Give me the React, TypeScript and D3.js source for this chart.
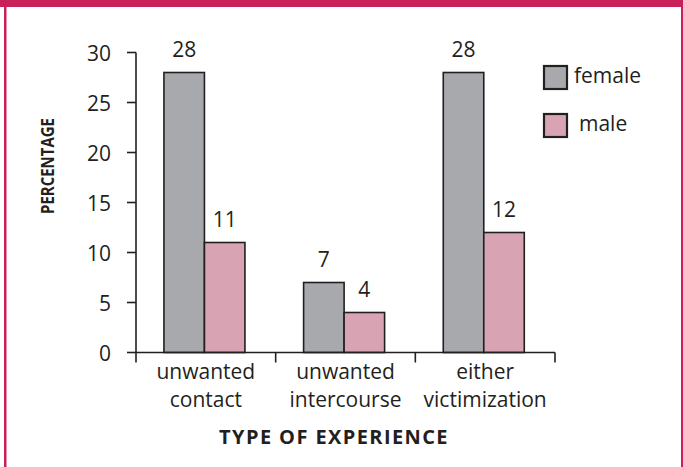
import React from "react";
import * as d3 from "d3";

// Share reporting each kind of experience, by sex (%)
const categories = [["unwanted", "contact"], ["unwanted", "intercourse"], ["either", "victimization"]];
const seriesNames = ["female", "male"];
const femaleValues = [28, 7, 28];
const maleValues = [11, 4, 12];
const yTicks = [0, 5, 10, 15, 20, 25, 30];

const W = 683;
const H = 467;
const INK = "#231F20";
const FRAME = "#C8215A";
const FILLS: Record<string, string> = { female: "#A7A9AC", male: "#D8A3B2" };
const FONT = "'Open Sans', 'Noto Sans', sans-serif";
const FS = 21;

export default function App() {
  const plot = { left: 136, right: 555, top: 52.5, bottom: 352.5 };

  const y = d3.scaleLinear().domain([0, 30]).range([plot.bottom, plot.top]);
  const x0 = d3
    .scaleBand<number>()
    .domain(d3.range(categories.length))
    .range([plot.left, plot.right])
    .padding(0);
  const bw = x0.bandwidth();
  const x1 = d3
    .scaleBand<string>()
    .domain(seriesNames)
    .range([bw * 0.2, bw * 0.78])
    .padding(0);

  const rows = categories.map((c, i) => ({
    i,
    values: [
      { key: "female", v: femaleValues[i] },
      { key: "male", v: maleValues[i] },
    ],
  }));

  const boundaries = d3.range(categories.length + 1).map((i) => plot.left + i * bw);

  return (
    <svg
      width={W}
      height={H}
      style={{ position: "absolute", left: 0, top: 0, background: "#fff" }}
      fontFamily={FONT}
    >
      {/* frame */}
      <rect x={0} y={0} width={W} height={7} fill={FRAME} />
      <rect x={4} y={0} width={2.5} height={H} fill={FRAME} />
      <rect x={681} y={0} width={2} height={H} fill={FRAME} />

      {/* bars */}
      {rows.map((r) => (
        <g key={r.i} transform={`translate(${x0(r.i)},0)`}>
          {r.values.map((d) => (
            <g key={d.key}>
              <rect
                x={x1(d.key)!}
                y={y(d.v)}
                width={x1.bandwidth()}
                height={y(0) - y(d.v)}
                fill={FILLS[d.key]}
                stroke={INK}
                strokeWidth={1.6}
              />
              <text
                x={x1(d.key)! + x1.bandwidth() / 2}
                y={y(d.v) - 16}
                textAnchor="middle"
                fontSize={FS}
                fill={INK}
              >
                {d.v}
              </text>
            </g>
          ))}
        </g>
      ))}

      {/* y axis */}
      <line x1={plot.left} x2={plot.left} y1={plot.top} y2={plot.bottom} stroke={INK} strokeWidth={1.6} />
      {yTicks.map((t) => (
        <g key={t}>
          <line x1={plot.left - 9} x2={plot.left} y1={y(t)} y2={y(t)} stroke={INK} strokeWidth={1.6} />
          <text x={111} y={y(t) + 8} textAnchor="end" fontSize={FS} fill={INK}>
            {t}
          </text>
        </g>
      ))}

      {/* x axis */}
      <line x1={plot.left} x2={plot.right} y1={plot.bottom} y2={plot.bottom} stroke={INK} strokeWidth={1.6} />
      {boundaries.map((b, i) => (
        <line key={i} x1={b} x2={b} y1={plot.bottom} y2={plot.bottom + 10} stroke={INK} strokeWidth={1.6} />
      ))}
      {categories.map((c, i) => (
        <text key={i} textAnchor="middle" fontSize={FS} fill={INK}>
          {c.map((line, j) => (
            <tspan key={j} x={x0(i)! + bw / 2} y={379 + j * 28}>
              {line}
            </tspan>
          ))}
        </text>
      ))}

      {/* axis titles */}
      <text
        x={334}
        y={444}
        textAnchor="middle"
        fontSize={20}
        fontWeight="bold"
        letterSpacing={1.4}
        fill={INK}
      >
        TYPE OF EXPERIENCE
      </text>
      <text
        transform={`translate(54,166) rotate(-90)`}
        textAnchor="middle"
        fontSize={17}
        fontWeight="bold"
        textLength={96}
        lengthAdjust="spacingAndGlyphs"
        fill={INK}
      >
        PERCENTAGE
      </text>

      {/* legend */}
      {seriesNames.map((s, i) => (
        <g key={s} transform={`translate(544,${66 + i * 48})`}>
          <rect x={0} y={0} width={23} height={23} fill={FILLS[s]} stroke={INK} strokeWidth={2.2} />
          <text x={s === "female" ? 30 : 35} y={17} fontSize={FS} fill={INK}>
            {s}
          </text>
        </g>
      ))}
    </svg>
  );
}
